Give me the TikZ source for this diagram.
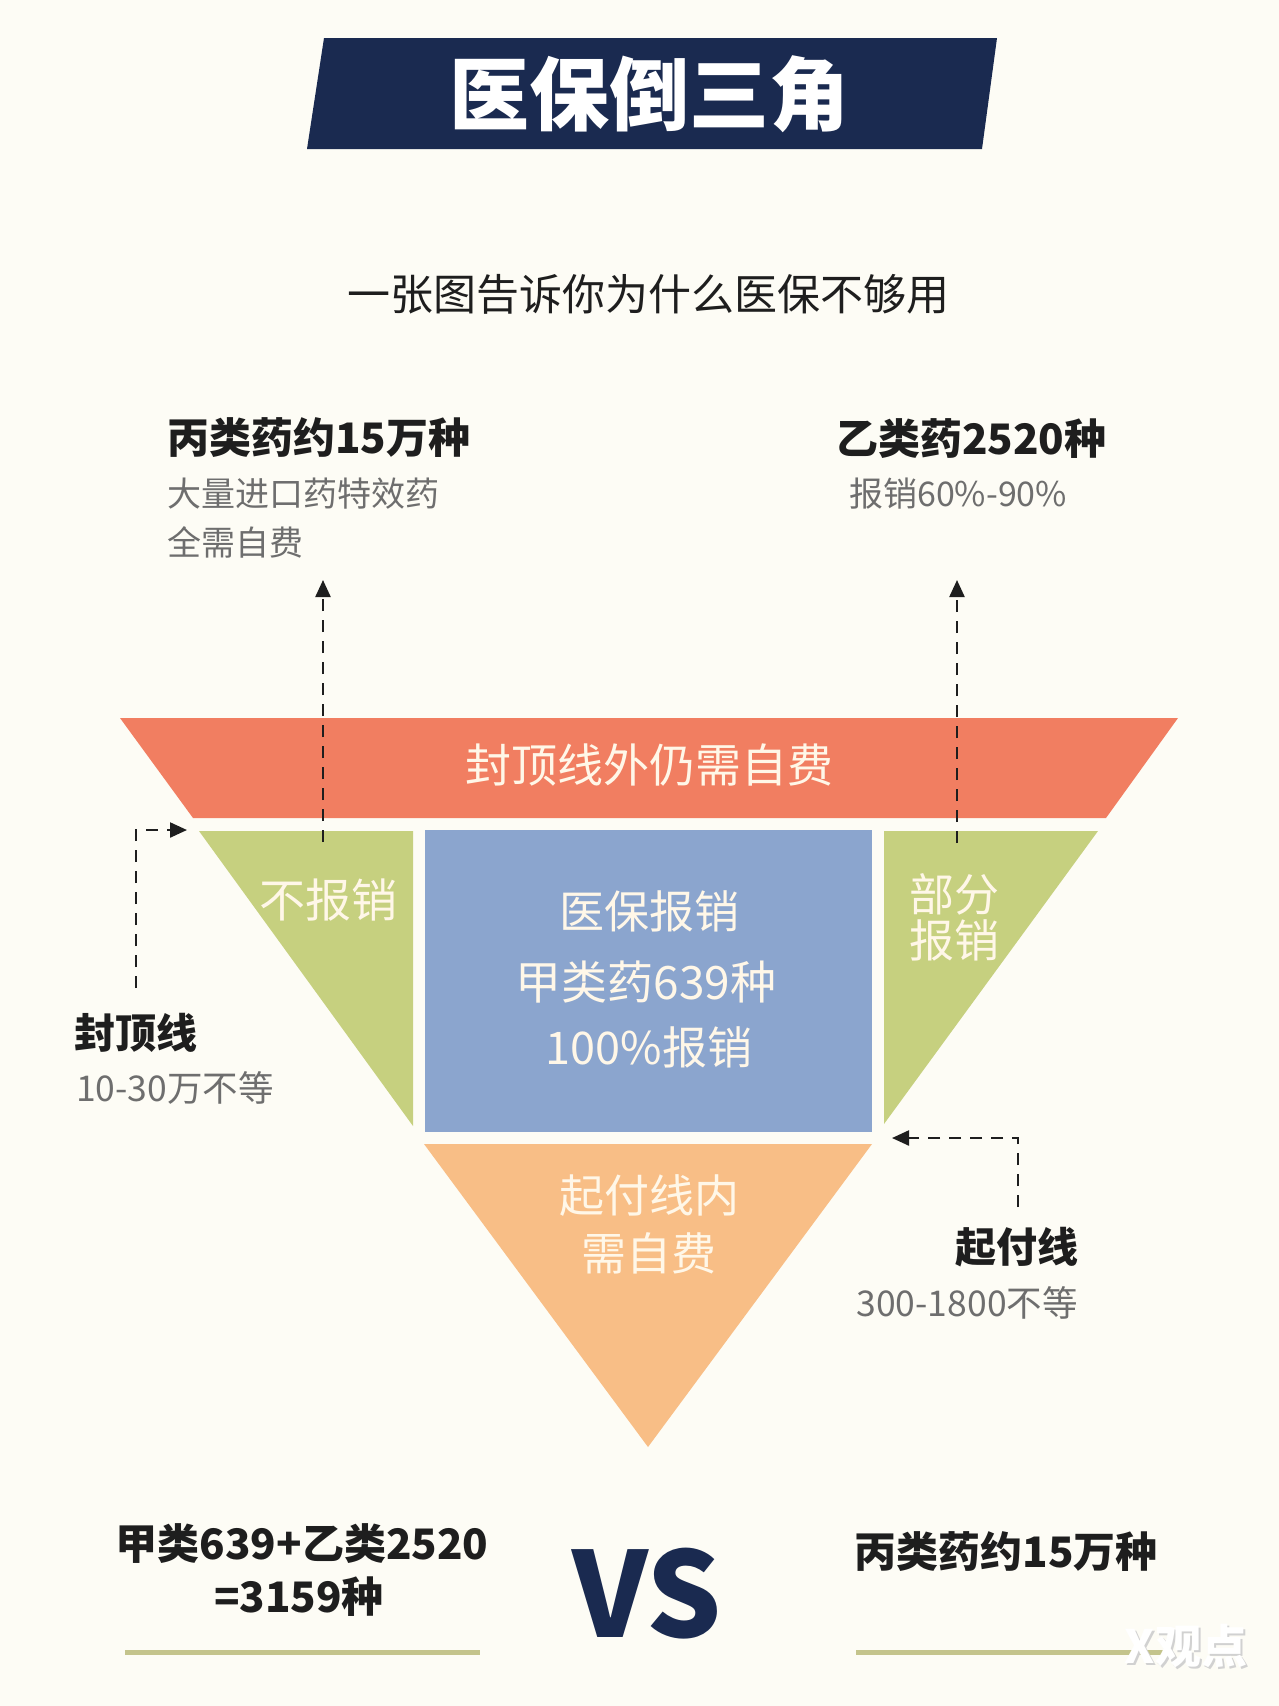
\documentclass[tikz,border=0pt]{standalone}
\usepackage{fontspec}
\setmainfont{Noto Sans CJK SC}
\usetikzlibrary{arrows.meta}
\definecolor{bgcol}{HTML}{FDFCF5}
\definecolor{navy}{HTML}{1A2A50}
\definecolor{redc}{HTML}{F17E61}
\definecolor{greenc}{HTML}{C6D07F}
\definecolor{bluec}{HTML}{8BA5CE}
\definecolor{orangec}{HTML}{F8BE86}
\definecolor{creamc}{HTML}{FFF7E8}
\definecolor{grayc}{HTML}{6E6E6E}
\definecolor{darkc}{HTML}{1E1E1E}
\definecolor{olivec}{HTML}{C4C48C}
\newcommand\myfs[1]{\fontsize{#1}{#1}\selectfont}
\tikzset{
  lbl/.style={inner sep=0pt, text=darkc, font=\myfs{42}\bfseries},
  sublbl/.style={inner sep=0pt, text=grayc, font=\myfs{34}},
  intext/.style={inner sep=0pt, text=creamc, font=\myfs{45}},
  dashline/.style={draw=darkc, line width=2.3pt, dash pattern=on 12pt off 9pt,
    -{Triangle[length=17pt,width=15pt]}},
  uline/.style={draw=olivec, line width=5pt}
}
\begin{document}
\begin{tikzpicture}[x=1pt,y=-1pt]
\fill[bgcol] (0,0) rectangle (1279,1706);
\useasboundingbox (0,0) rectangle (1279,1706);

% title banner
\fill[navy] (324,38) -- (997,38) -- (982,149) -- (307,149) -- cycle;
\node[inner sep=0pt, text=white, font=\myfs{80}\bfseries] (title) at (649,94) {医保倒三角};

\node[inner sep=0pt, text=darkc, font=\myfs{43}] (subtitle) at (648,294) {一张图告诉你为什么医保不够用};

% top labels
\node[lbl, anchor=west] (cTitle) at (167,438) {丙类药约15万种};
\node[sublbl, anchor=west] (cSub1) at (167,494) {大量进口药特效药};
\node[sublbl, anchor=west] (cSub2) at (167,542) {全需自费};
\node[lbl, anchor=west] (bTitle) at (836,439) {乙类药2520种};
\node[sublbl, anchor=west] (bSub) at (849,494) {报销60\%-90\%};

% inverted triangle pieces
\fill[redc] (120,718) -- (1178,718) -- (1106,818) -- (193,818) -- cycle;
\fill[greenc] (199,831) -- (413,831) -- (413,1126) -- cycle;
\fill[bluec] (425,830) rectangle (872,1132);
\fill[greenc] (884,831) -- (1098,831) -- (884,1124) -- cycle;
\fill[orangec] (424,1144) -- (872,1144) -- (648,1447) -- cycle;

\node[intext, font=\myfs{46}] (capout) at (649,765) {封顶线外仍需自费};
\node[intext, font=\myfs{46}] (noreimb) at (328,900) {不报销};
\node[intext] (blue1) at (649,911) {医保报销};
\node[intext, font=\myfs{46}] (blue2) at (646,982) {甲类药639种};
\node[intext] (blue3) at (649,1047) {100\%报销};
\node[intext, anchor=west] (part1) at (909,894) {部分};
\node[intext, anchor=west] (part2) at (909,940) {报销};
\node[intext] (ded1) at (649,1196) {起付线内};
\node[intext] (ded2) at (649,1253) {需自费};

% side labels
\node[lbl, font=\myfs{41}\bfseries, anchor=west] (capTitle) at (74,1033) {封顶线};
\node[sublbl, font=\myfs{35.5}, anchor=west] (capSub) at (76,1088) {10-30万不等};
\node[lbl, font=\myfs{41}\bfseries, anchor=east] (dedTitle) at (1079,1247) {起付线};
\node[sublbl, font=\myfs{35.5}, anchor=east] (dedSub) at (1078,1303) {300-1800不等};

% connectors
\coordinate (upLs) at (323,842);
\coordinate (upLe) at (323,580);
\coordinate (upRs) at (957,843);
\coordinate (upRe) at (957,580);
\coordinate (capS) at (136,988);
\coordinate (capE) at (187,830);
\coordinate (dedS) at (1018,1207);
\coordinate (dedE) at (892,1138);
\draw[dashline] (upLs) -- (upLe);
\draw[dashline] (upRs) -- (upRe);
\draw[dashline] (capS) |- (capE);
\draw[dashline] (dedS) |- (dedE);

% bottom comparison
\node[lbl] (sum1) at (302,1544) {甲类639+乙类2520};
\node[lbl] (sum2) at (299,1597) {=3159种};
\node[inner sep=0pt, text=navy, font=\myfs{118}\bfseries] (vs) at (647,1594) {VS};
\node[lbl] (cBottom) at (1006,1552) {丙类药约15万种};
\draw[uline] (125,1652) -- (480,1652);
\draw[uline] (856,1652) -- (1165,1652);

% watermark
\node[inner sep=0pt, text=black!18, font=\myfs{46}\bfseries] (wmshadow) at (1188,1648) {X观点};
\node[inner sep=0pt, text=white, font=\myfs{46}\bfseries] (wm) at (1186,1646) {X观点};
\end{tikzpicture}
\end{document}
